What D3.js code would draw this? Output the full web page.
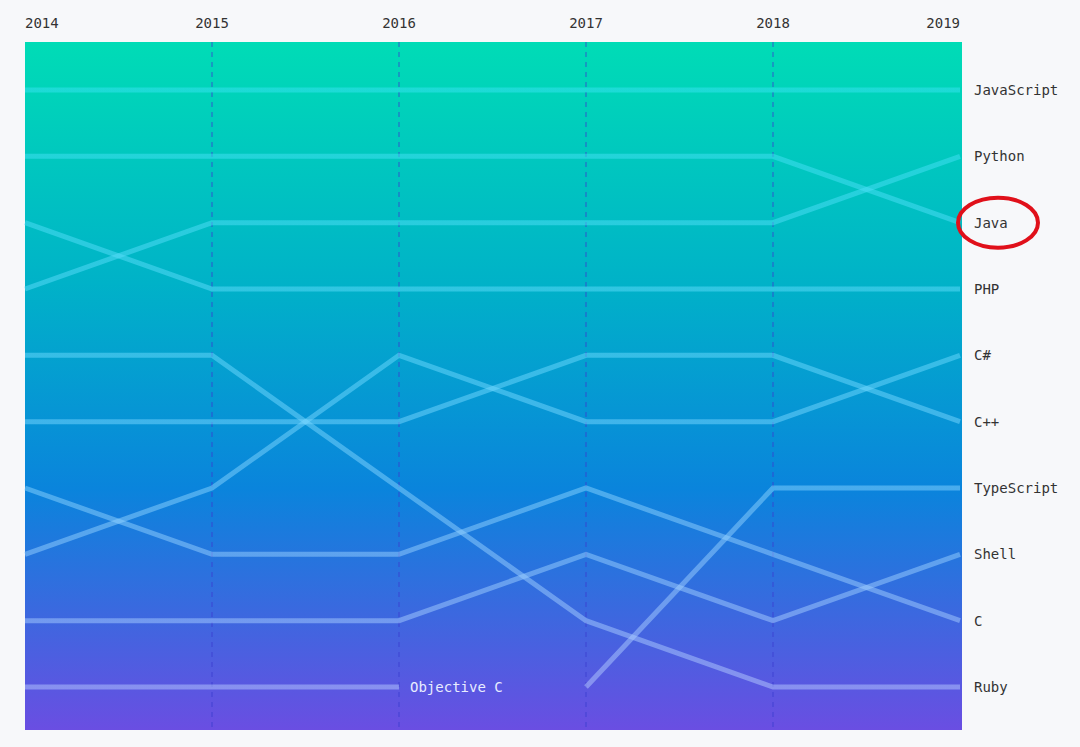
<!DOCTYPE html>
<html>
<head>
<meta charset="utf-8">
<script src="https://cdn.jsdelivr.net/npm/d3@7"></script>
<style>
body { margin: 0; background: #f7f8fa; }
text { font-family: 'DejaVu Sans Mono', monospace; }
</style>
</head>
<body>
<svg id="chart" width="1080" height="747"></svg>
<script>
// rank per year, null where language was not in the top ten
var YEARS = [2014, 2015, 2016, 2017, 2018, 2019];
var LANGS = ['JavaScript', 'Python', 'Java', 'PHP', 'C#', 'C++', 'TypeScript', 'Shell', 'C', 'Ruby', 'Objective C'];
var RANKS = [
    [1, 1, 1, 1, 1, 1],
    [4, 3, 3, 3, 3, 2],
    [2, 2, 2, 2, 2, 3],
    [3, 4, 4, 4, 4, 4],
    [8, 7, 5, 6, 6, 5],
    [6, 6, 6, 5, 5, 6],
    [null, null, null, 10, 7, 7],
    [9, 9, 9, 8, 9, 8],
    [7, 8, 8, 7, 8, 9],
    [5, 5, 7, 9, 10, 10],
    [10, 10, 10, null, null, null]
];

var svg = d3.select('#chart');
var plotLeft = 25, plotRight = 962, plotTop = 42, plotBottom = 730;

var x = d3.scaleLinear().domain([2014, 2019]).range([plotLeft, 960]);
var y = d3.scaleLinear().domain([1, 10]).range([90, 687]);

var defs = svg.append('defs');
var grad = defs.append('linearGradient').attr('id', 'bg')
    .attr('x1', 0).attr('y1', 0).attr('x2', 0).attr('y2', 1);
grad.append('stop').attr('offset', '0%').attr('stop-color', '#00dcb6');
grad.append('stop').attr('offset', '35%').attr('stop-color', '#00b2c8');
grad.append('stop').attr('offset', '65%').attr('stop-color', '#0a84dc');
grad.append('stop').attr('offset', '100%').attr('stop-color', '#6a4ee2');

// line colour drifts from cyan to lavender down the chart
var lineGrad = defs.append('linearGradient').attr('id', 'lineGrad')
    .attr('gradientUnits', 'userSpaceOnUse')
    .attr('x1', 0).attr('y1', plotTop).attr('x2', 0).attr('y2', plotBottom);
lineGrad.append('stop').attr('offset', '0%').attr('stop-color', '#30e4f0');
lineGrad.append('stop').attr('offset', '50%').attr('stop-color', '#70d8ff');
lineGrad.append('stop').attr('offset', '100%').attr('stop-color', '#c0c8ff');

svg.append('rect')
    .attr('x', plotLeft).attr('y', plotTop)
    .attr('width', plotRight - plotLeft).attr('height', plotBottom - plotTop)
    .attr('fill', 'url(#bg)');

// dashed year guides
svg.selectAll('line.guide')
    .data(YEARS.slice(1, -1))
    .enter().append('line')
    .attr('class', 'guide')
    .attr('x1', function(d) { return x(d); })
    .attr('x2', function(d) { return x(d); })
    .attr('y1', plotTop).attr('y2', plotBottom)
    .attr('stroke', '#3a3ccf')
    .attr('stroke-opacity', 0.4)
    .attr('stroke-width', 2)
    .attr('stroke-dasharray', '5,5');

// year labels
svg.selectAll('text.year')
    .data(YEARS)
    .enter().append('text')
    .attr('class', 'year')
    .attr('x', function(d) { return x(d); })
    .attr('y', 28)
    .attr('text-anchor', function(d, i) { return i == 0 ? 'start' : (i == YEARS.length - 1 ? 'end' : 'middle'); })
    .attr('font-size', 14)
    .attr('fill', '#333')
    .text(function(d) { return d; });

var line = d3.line()
    .defined(function(d) { return d.rank != null; })
    .x(function(d) { return x(d.year); })
    .y(function(d) { return y(d.rank); });

LANGS.forEach(function(lang, i) {
    var pts = YEARS.map(function(yr, j) { return { year: yr, rank: RANKS[i][j] }; });
    svg.append('path')
        .datum(pts)
        .attr('d', line)
        .attr('fill', 'none')
        .attr('stroke', 'url(#lineGrad)')
        .attr('stroke-opacity', 0.5)
        .attr('stroke-width', 5);
});

// end labels
LANGS.forEach(function(lang, i) {
    var r = RANKS[i][YEARS.length - 1];
    if (r == null) return;
    svg.append('text')
        .attr('x', 974).attr('y', y(r) + 5)
        .attr('font-size', 14)
        .attr('fill', '#333')
        .text(lang);
});

svg.append('text')
    .attr('x', 410).attr('y', y(10) + 5)
    .attr('font-size', 14)
    .attr('fill', '#e8ecff')
    .text('Objective C');

// red highlight around Java
svg.append('ellipse')
    .attr('cx', 998).attr('cy', y(3))
    .attr('rx', 40).attr('ry', 25)
    .attr('fill', 'none')
    .attr('stroke', '#e0101a')
    .attr('stroke-width', 4);
</script>
</body>
</html>
